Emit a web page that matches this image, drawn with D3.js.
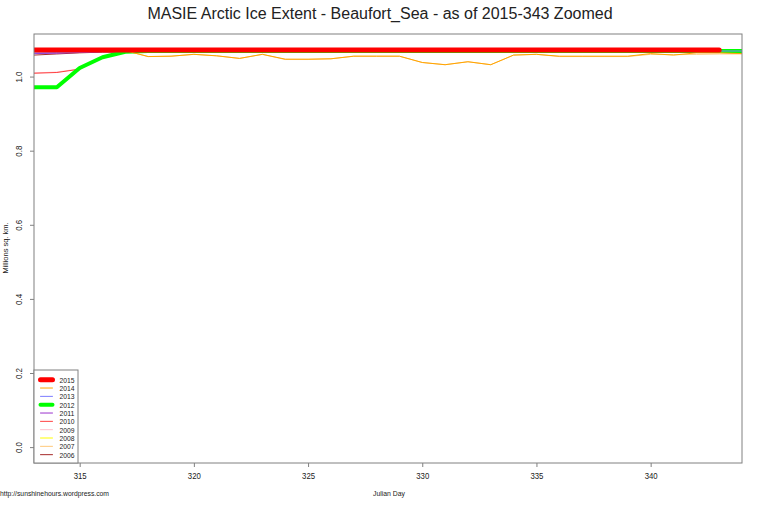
<!DOCTYPE html>
<html>
<head>
<meta charset="utf-8">
<script src="https://cdn.jsdelivr.net/npm/d3@7"></script>
<style>
  body { margin: 0; background: #fff; }
  text { font-family: "Liberation Sans Narrow", "Liberation Sans", Arial, sans-serif; fill: #222; }
</style>
</head>
<body>
<div id="chart"></div>
<script>
// day of year along the x axis
var days = [313, 314, 315, 316, 317, 318, 319, 320, 321, 322, 323, 324, 325, 326, 327, 328,
            329, 330, 331, 332, 333, 334, 335, 336, 337, 338, 339, 340, 341, 342, 343, 344];

// extent, millions sq km
var y2015 = [1.072, 1.072, 1.072, 1.072, 1.072, 1.072, 1.072, 1.072, 1.072, 1.072, 1.072, 1.072, 1.072, 1.072, 1.072, 1.072,
             1.072, 1.072, 1.072, 1.072, 1.072, 1.072, 1.072, 1.072, 1.072, 1.072, 1.072, 1.072, 1.072, 1.072, 1.072];
var y2014 = [1.070, 1.070, 1.070, 1.070, 1.070, 1.054, 1.055, 1.060, 1.056, 1.049, 1.060, 1.047, 1.047, 1.048, 1.055, 1.055,
             1.055, 1.038, 1.032, 1.040, 1.032, 1.058, 1.060, 1.055, 1.055, 1.055, 1.055, 1.062, 1.058, 1.064, 1.064, 1.062];
var y2013 = [1.064, 1.065, 1.066, 1.068, 1.069, 1.069, 1.069, 1.069, 1.069, 1.069, 1.069, 1.069, 1.069, 1.069, 1.069, 1.069,
             1.069, 1.069, 1.069, 1.069, 1.069, 1.069, 1.069, 1.069, 1.069, 1.069, 1.069, 1.069, 1.069, 1.069, 1.069, 1.069];
var y2012 = [0.971, 0.971, 1.023, 1.052, 1.067, 1.069, 1.069, 1.069, 1.069, 1.069, 1.069, 1.069, 1.069, 1.069, 1.069, 1.069,
             1.069, 1.069, 1.069, 1.069, 1.069, 1.069, 1.069, 1.069, 1.069, 1.069, 1.069, 1.069, 1.069, 1.069, 1.069, 1.069];
var y2011 = [1.062, 1.063, 1.065, 1.067, 1.069, 1.069, 1.069, 1.069, 1.069, 1.069, 1.069, 1.069, 1.069, 1.069, 1.069, 1.069,
             1.069, 1.069, 1.069, 1.069, 1.069, 1.069, 1.069, 1.069, 1.069, 1.069, 1.069, 1.069, 1.069, 1.069, 1.069, 1.069];
var y2010 = [1.009, 1.011, 1.020, 1.053, 1.067, 1.068, 1.068, 1.068, 1.068, 1.068, 1.068, 1.068, 1.068, 1.068, 1.068, 1.068,
             1.068, 1.068, 1.068, 1.068, 1.068, 1.068, 1.068, 1.068, 1.068, 1.068, 1.068, 1.068, 1.068, 1.068, 1.068, 1.068];
var y2009 = [1.010, 1.012, 1.021, 1.052, 1.066, 1.067, 1.067, 1.067, 1.067, 1.067, 1.067, 1.067, 1.067, 1.067, 1.067, 1.067,
             1.067, 1.067, 1.067, 1.067, 1.067, 1.067, 1.067, 1.067, 1.067, 1.067, 1.067, 1.067, 1.067, 1.067, 1.067, 1.067];
var y2008 = [1.070, 1.070, 1.070, 1.070, 1.070, 1.070, 1.070, 1.070, 1.070, 1.070, 1.070, 1.070, 1.070, 1.070, 1.070, 1.070,
             1.070, 1.070, 1.070, 1.070, 1.070, 1.070, 1.070, 1.070, 1.070, 1.070, 1.070, 1.070, 1.070, 1.070, 1.070, 1.070];
var y2007 = [1.070, 1.070, 1.070, 1.070, 1.070, 1.054, 1.055, 1.060, 1.056, 1.049, 1.060, 1.046, 1.046, 1.048, 1.055, 1.055,
             1.055, 1.038, 1.032, 1.040, 1.032, 1.058, 1.060, 1.054, 1.054, 1.054, 1.054, 1.060, 1.059, 1.060, 1.061, 1.061];
var y2006 = [1.058, 1.061, 1.064, 1.066, 1.065, 1.065, 1.065, 1.065, 1.065, 1.065, 1.065, 1.065, 1.065, 1.065, 1.065, 1.065,
             1.065, 1.065, 1.065, 1.065, 1.065, 1.065, 1.065, 1.065, 1.065, 1.065, 1.065, 1.065, 1.065, 1.065, 1.065, 1.063];

var years  = ["2015", "2014", "2013", "2012", "2011", "2010", "2009", "2008", "2007", "2006"];
var series = [y2015, y2014, y2013, y2012, y2011, y2010, y2009, y2008, y2007, y2006];
var colors = ["#ff0000", "#ffa500", "#7b7bff", "#00ff00", "#9a32cd", "#ff4040", "#ffc0cb", "#ffff00", "#ffc87a", "#a52a2a"];
var widths = [5, 1, 1, 4, 1, 1, 1, 1, 1, 1];

var xTicks = [315, 320, 325, 330, 335, 340];
var yTicks = [0.0, 0.2, 0.4, 0.6, 0.8, 1.0];

var W = 760, H = 506;
var margin = {top: 34, right: 18, bottom: 43, left: 34};

var svg = d3.select("#chart").append("svg")
    .attr("width", W)
    .attr("height", H);

// R style: y axis padded 4% each side, x axis exact
var x = d3.scaleLinear()
    .domain([313, 344])
    .range([margin.left, W - margin.right]);
var yMax = 1.072;
var y = d3.scaleLinear()
    .domain([-0.04 * yMax, yMax * 1.04])
    .range([H - margin.bottom, margin.top]);

svg.append("clipPath").attr("id", "plotclip")
  .append("rect")
    .attr("x", margin.left).attr("y", margin.top)
    .attr("width", W - margin.left - margin.right)
    .attr("height", H - margin.top - margin.bottom);

var line = d3.line()
    .defined(function(d) { return d != null; })
    .x(function(d, i) { return x(days[i]); })
    .y(function(d) { return y(d); });

// oldest first so 2015 ends up on top
var plot = svg.append("g").attr("clip-path", "url(#plotclip)");
for (var k = series.length - 1; k >= 0; k--) {
  plot.append("path")
      .datum(series[k])
      .attr("fill", "none")
      .attr("stroke", colors[k])
      .attr("stroke-width", widths[k])
      .attr("stroke-linecap", "round")
      .attr("stroke-linejoin", "round")
      .attr("d", line);
}

// axes
var xAxis = svg.append("g")
    .attr("transform", "translate(0," + (H - margin.bottom) + ")")
    .call(d3.axisBottom(x).tickValues(xTicks).tickSize(4).tickPadding(6).tickFormat(d3.format("d")));
var yAxis = svg.append("g")
    .attr("transform", "translate(" + margin.left + ",0)")
    .call(d3.axisLeft(y).tickValues(yTicks).tickSize(4).tickFormat(d3.format(".1f")));

[xAxis, yAxis].forEach(function(a) {
  a.select(".domain").remove();
  a.selectAll(".tick line").attr("stroke", "#808080");
  a.selectAll(".tick text").attr("font-size", 9).attr("fill", "#222");
});
xAxis.selectAll(".tick text")
    .attr("textLength", 13).attr("lengthAdjust", "spacingAndGlyphs");
yAxis.selectAll(".tick text")
    .attr("x", null).attr("dy", null)
    .attr("text-anchor", "middle")
    .attr("textLength", 11).attr("lengthAdjust", "spacingAndGlyphs")
    .attr("transform", "translate(-12,0) rotate(-90)");

// box round the plot
svg.append("rect")
    .attr("x", margin.left).attr("y", margin.top)
    .attr("width", W - margin.left - margin.right)
    .attr("height", H - margin.top - margin.bottom)
    .attr("fill", "none")
    .attr("stroke", "#808080");

// titles
svg.append("text")
    .attr("x", 380).attr("y", 19)
    .attr("text-anchor", "middle")
    .style("font-family", "'Liberation Sans', Arial, sans-serif")
    .attr("font-size", 16)
    .text("MASIE Arctic Ice Extent - Beaufort_Sea - as of 2015-343 Zoomed");

svg.append("text")
    .attr("transform", "translate(8," + 248 + ") rotate(-90)")
    .attr("text-anchor", "middle")
    .attr("font-size", 8)
    .attr("textLength", 51).attr("lengthAdjust", "spacingAndGlyphs")
    .text("Millions sq. km.");

svg.append("text")
    .attr("x", 389).attr("y", 496)
    .attr("text-anchor", "middle")
    .attr("font-size", 8)
    .attr("textLength", 32).attr("lengthAdjust", "spacingAndGlyphs")
    .text("Julian Day");

svg.append("text")
    .attr("x", 0).attr("y", 496)
    .attr("font-size", 8)
    .attr("textLength", 109).attr("lengthAdjust", "spacingAndGlyphs")
    .text("http://sunshinehours.wordpress.com");

// legend
var lg = svg.append("g");
lg.append("rect")
    .attr("x", margin.left).attr("y", 370)
    .attr("width", 44).attr("height", H - margin.bottom - 370)
    .attr("fill", "#fff")
    .attr("stroke", "#808080");
years.forEach(function(yr, i) {
  var yy = 379.7 + i * 8.33;
  lg.append("line")
      .attr("x1", 40.5).attr("x2", 52.5)
      .attr("y1", yy).attr("y2", yy)
      .attr("stroke", colors[i])
      .attr("stroke-width", widths[i])
      .attr("stroke-linecap", "round");
  lg.append("text")
      .attr("x", 59.5).attr("y", yy + 3)
      .attr("font-size", 8)
      .attr("textLength", 15).attr("lengthAdjust", "spacingAndGlyphs")
      .text(yr);
});
</script>
</body>
</html>
